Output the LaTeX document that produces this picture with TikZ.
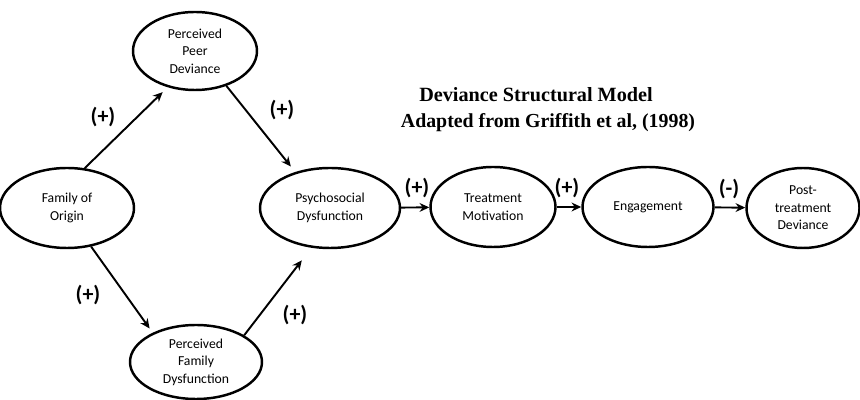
\documentclass[tikz,border=0pt]{standalone}
\usepackage{fontspec}
\setmainfont{Carlito}
\newfontfamily\titlefont{Liberation Serif}
\usetikzlibrary{shapes.geometric,arrows.meta}

\begin{document}
\begin{tikzpicture}[
    font=\fontsize{7.8}{10}\selectfont,
    construct/.style={draw,ellipse,line width=1.4pt,align=center,inner sep=0pt},
    link/.style={-{Stealth[length=5.5pt,width=5pt]},line width=1.1pt},
    effect/.style={font=\fontsize{12.5}{13}\selectfont\bfseries}
  ]
  \useasboundingbox (0,0) rectangle (17.2,8);
  \node[construct,minimum width=2.68cm,minimum height=1.6cm] (family) at (1.34,3.84) {Family of\\Origin};
  \node[construct,minimum width=2.48cm,minimum height=1.56cm] (peer) at (3.9,6.98) {Perceived\\Peer\\Deviance};
  \node[construct,minimum width=2.64cm,minimum height=1.48cm] (famdys) at (3.92,0.76) {Perceived\\Family\\Dysfunction};
  \node[construct,minimum width=2.8cm,minimum height=1.6cm] (psycho) at (6.6,3.84) {Psychosocial\\Dysfunction};
  \node[construct,minimum width=2.5cm,minimum height=1.6cm] (motiv) at (9.86,3.86) {Treatment\\Motivation};
  \node[construct,minimum width=2.62cm,minimum height=1.6cm] (engage) at (12.96,3.86) {Engagement};
  \node[construct,minimum width=2.26cm,minimum height=1.6cm] (post) at (16.06,3.84) {Post-\\treatment\\Deviance};

  \node[font=\titlefont\fontsize{11.5}{13}\selectfont\bfseries] (title) at (10.72,6.1) {Deviance Structural Model};
  \node[font=\titlefont\fontsize{11.3}{13}\selectfont\bfseries] (source) at (10.96,5.54) {Adapted from Griffith et al, (1998)};

  \draw[link,shorten >=4pt] (family.66) -- (peer.233);
  \draw[link,shorten >=4pt] (peer.-48) -- (psycho.134);
  \draw[link,shorten >=3pt] (family.-58) -- (famdys.146);
  \draw[link,shorten >=9pt] (famdys.29) -- (psycho.245);
  \draw[link] (psycho) -- (motiv);
  \draw[link] (motiv) -- (engage);
  \draw[link] (engage) -- (post);

  \node[effect] (s1) at (2.06,5.66) {(+)};
  \node[effect] (s2) at (5.64,5.8) {(+)};
  \node[effect] (s3) at (1.76,2.1) {(+)};
  \node[effect] (s4) at (5.9,1.7) {(+)};
  \node[effect] (s5) at (8.34,4.24) {(+)};
  \node[effect] (s6) at (11.34,4.24) {(+)};
  \node[effect] (s7) at (14.58,4.22) {(-)};
\end{tikzpicture}
\end{document}
